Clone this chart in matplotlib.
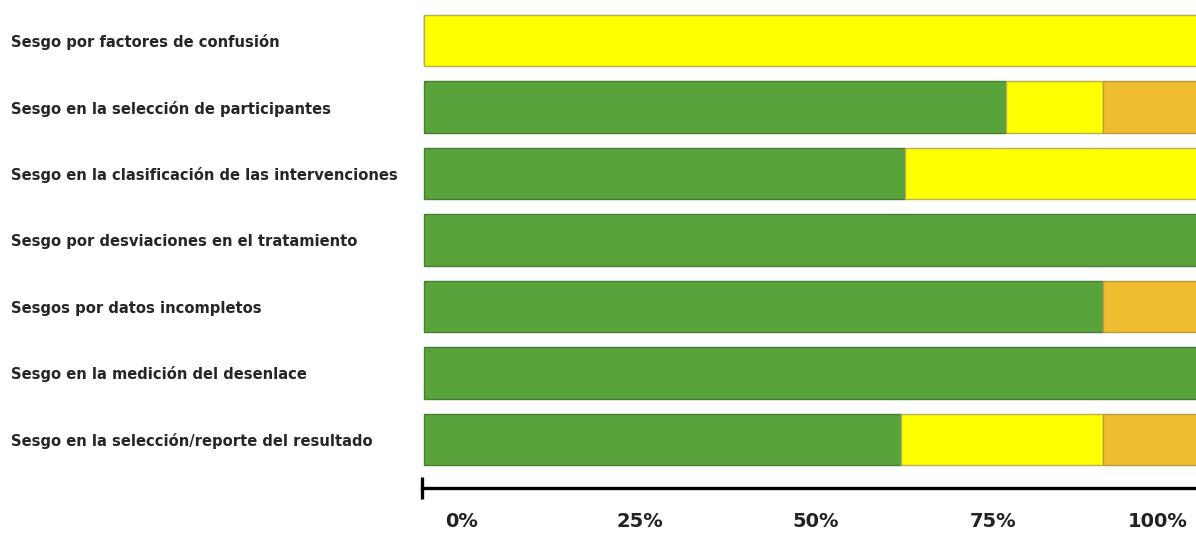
import matplotlib
matplotlib.use("Agg")
import matplotlib.pyplot as plt
import numpy as np

# risk of bias domains, top to bottom
domains = [
    "Sesgo por factores de confusión",
    "Sesgo en la selección de participantes",
    "Sesgo en la clasificación de las intervenciones",
    "Sesgo por desviaciones en el tratamiento",
    "Sesgos por datos incompletos",
    "Sesgo en la medición del desenlace",
    "Sesgo en la selección/reporte del resultado",
]

# percent of studies per judgement
bajo = [0, 75, 62, 100, 87.5, 100, 61.5]
moderado = [100, 12.5, 38, 0, 0, 0, 26]
serio = [0, 12.5, 0, 0, 12.5, 0, 12.5]

tick_labels = ["0%", "25%", "50%", "75%", "100%"]
# labels in the original sit a bit off the true positions
tick_label_pos = [4.9, 27.8, 50.5, 73.4, 94.5]

colors = {"bajo": "#58a33a", "moderado": "#ffff00", "serio": "#f0bd30"}
edges = {"bajo": "#4a7d34", "moderado": "#b9ad55", "serio": "#b99a45"}

plt.rcParams['font.family'] = ['DejaVu Sans']

fig = plt.figure(figsize=(11.96, 5.37), dpi=100)
# plot area runs a little past the right edge of the picture
ax = fig.add_axes([422 / 1196, 49 / 537, 778 / 1196, 478 / 537])

y = np.arange(len(domains))
left = np.zeros(len(domains))
for key, vals in [("bajo", bajo), ("moderado", moderado), ("serio", serio)]:
    vals = np.array(vals, dtype=float)
    ax.barh(y, vals, left=left, height=0.77, color=colors[key],
            edgecolor=edges[key], linewidth=1.0)
    left += vals

ax.set_xlim(0, 100)
ax.set_ylim(len(domains) - 1 + 0.73, -0.46)

for s in ["top", "right", "left"]:
    ax.spines[s].set_visible(False)
ax.spines["bottom"].set_linewidth(2.4)
ax.spines["bottom"].set_bounds(-0.2, 100)

ax.set_yticks(y)
ax.set_yticklabels(domains, fontsize=10.6, fontweight="bold", color="#262626", ha="left")
ax.tick_params(axis="y", length=0, pad=296)

ax.set_xticks(tick_label_pos)
ax.set_xticklabels(tick_labels, fontsize=14, fontweight="bold", color="#222222")
ax.tick_params(axis="x", which="major", length=0, pad=17)
ax.set_xticks([-0.2], minor=True)
ax.tick_params(axis="x", which="minor", length=16, width=2.4, direction="inout")

fig.savefig("out.png", dpi=100)
